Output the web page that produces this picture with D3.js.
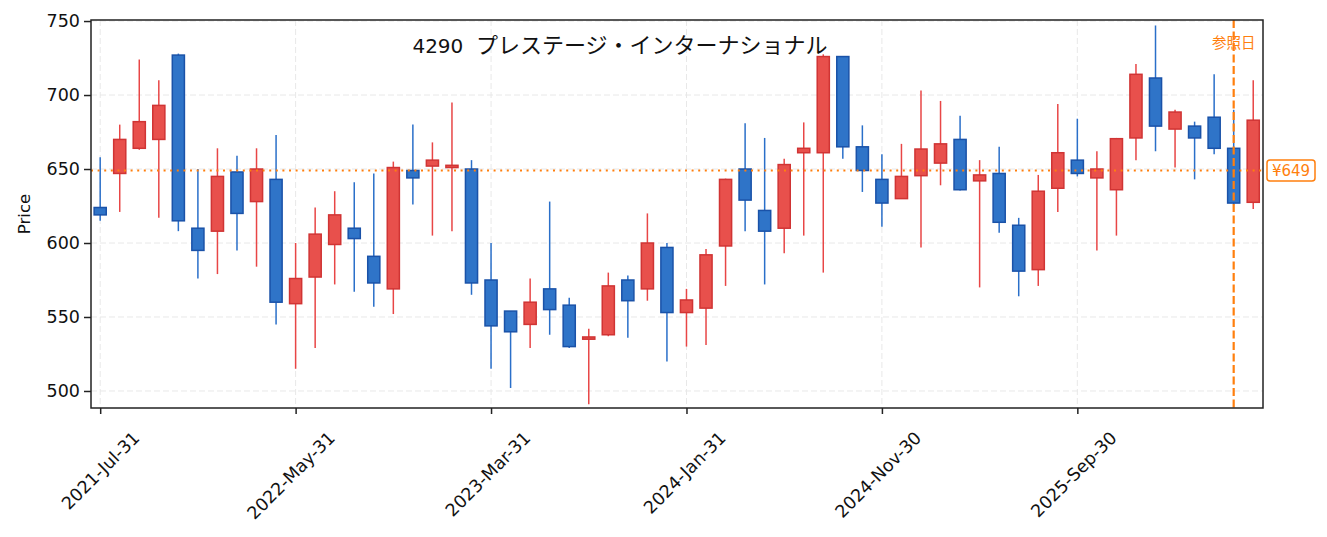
<!DOCTYPE html>
<html>
<head>
<meta charset="utf-8">
<script src="https://cdn.jsdelivr.net/npm/d3@7"></script>
<style>
  body { margin: 0; background: #fff; }
  svg text { font-family: "DejaVu Sans", "Noto Sans CJK JP", sans-serif; }
</style>
</head>
<body>
<script>
// DATA ––––––––––––––––––––––––––––––––––––––––––––––––––––––––––––––––

var dates = [
  "2021-07-31","2021-08-31","2021-09-30","2021-10-31","2021-11-30","2021-12-31",
  "2022-01-31","2022-02-28","2022-03-31","2022-04-30","2022-05-31","2022-06-30",
  "2022-07-31","2022-08-31","2022-09-30","2022-10-31","2022-11-30","2022-12-31",
  "2023-01-31","2023-02-28","2023-03-31","2023-04-30","2023-05-31","2023-06-30",
  "2023-07-31","2023-08-31","2023-09-30","2023-10-31","2023-11-30","2023-12-31",
  "2024-01-31","2024-02-29","2024-03-31","2024-04-30","2024-05-31","2024-06-30",
  "2024-07-31","2024-08-31","2024-09-30","2024-10-31","2024-11-30","2024-12-31",
  "2025-01-31","2025-02-28","2025-03-31","2025-04-30","2025-05-31","2025-06-30",
  "2025-07-31","2025-08-31","2025-09-30","2025-10-31","2025-11-30","2025-12-31",
  "2026-01-31","2026-02-28","2026-03-31","2026-04-30","2026-05-31","2026-06-30"
];

var open  = [624,647,664,670,727,610,608,648,628,643, 559,577,599,610,591,569,649,652,651,650,
             575,554,545,569,558,535,538,575,569,597, 553,556,598,650,622,610,661,661,726,665,
             643,630,645.5,654,670,642,647,612,582,637, 656,644,636,671,711.5,677,679,685,664,627.5];
var high  = [658,680,724,710,728,650,664,659,664,673, 600,624,635,641,647,655,680,668,695,656,
             600,554,576,628,563,542,580,578,620,600, 569,596,643.5,681,671,657,681.5,727.5,726,679.5,
             660,667,703,696,686,656,665,617,646,694, 684,662,671,721,747,690,682,714,690,710];
var low   = [615,621,663,617,608,576,579,595,584,545, 515,529,572,567,557,552,626,605,608,565,
             515,502,529,538,529,491,537,536,561,520, 530,531,571,608,572,593,605,580,657,634.5,
             611,630,597,639,635.5,570,607,564,571,621, 645,595,605,656,662,651,643,660,626,623];
var close = [619,670,682,693,615,595,645,620,650,560, 576,606,619,603,573,651,644,656,652.5,573,
             544,540,560,555,530,536.5,571,561,600,553, 561.5,592,643,629,608,653,664,726,665,649,
             627,645,663.5,667,636,646,614,581,635,661, 647,650,670.5,714,679,688.5,671,664,627,683];

var tickIndex  = [0, 10, 20, 30, 40, 50];
var tickLabels = ["2021-Jul-31","2022-May-31","2023-Mar-31","2024-Jan-31","2024-Nov-30","2025-Sep-30"];
var yTicks     = [500, 550, 600, 650, 700, 750];

var titleCode = "4290";
var titleName = "プレステージ・インターナショナル";
var refPrice  = 649;
var refIndex  = 58;
var refLabel  = "参照日";

// DRAW ––––––––––––––––––––––––––––––––––––––––––––––––––––––––––––––––

var drawChart = function() {
  let W = 1327, H = 537,
      margin = {top: 20, right: 64, bottom: 129, left: 91},
      width = W - margin.left - margin.right,
      height = H - margin.top - margin.bottom;

  let up = {fill: "#e8504c", stroke: "#d03434", wick: "#e84646"},
      down = {fill: "#2f74c8", stroke: "#1a52a8", wick: "#2a6fc9"},
      orange = "#ff7f0e";

  let svg = d3.select("body").append("svg")
      .attr("width", W)
      .attr("height", H);

  let g = svg.append("g")
      .attr("transform", "translate(" + margin.left + "," + margin.top + ")");

  let x = d3.scaleLinear().domain([-0.47, 59.5]).range([0, width]);
  let y = d3.scaleLinear().domain([488.5, 750.7]).range([height, 0]);

  // grid
  g.append("g").selectAll("line").data(yTicks).join("line")
    .attr("x1", 0).attr("x2", width)
    .attr("y1", d => y(d)).attr("y2", d => y(d))
    .attr("stroke", "#e8e8e8").attr("stroke-width", 1).attr("stroke-dasharray", "6,3");
  g.append("g").selectAll("line").data(tickIndex).join("line")
    .attr("x1", d => x(d)).attr("x2", d => x(d))
    .attr("y1", 0).attr("y2", height)
    .attr("stroke", "#e8e8e8").attr("stroke-width", 1).attr("stroke-dasharray", "6,3");

  // candles
  let candles = dates.map(function(d, i) {
    return {i: i, o: open[i], h: high[i], l: low[i], c: close[i]};
  });
  let bw = x(0.62) - x(0);

  let cg = g.append("g").selectAll("g").data(candles).join("g");
  cg.append("line")
    .attr("x1", d => x(d.i)).attr("x2", d => x(d.i))
    .attr("y1", d => y(d.h)).attr("y2", d => y(d.l))
    .attr("stroke", d => d.c >= d.o ? up.wick : down.wick)
    .attr("stroke-width", 1.5);
  cg.append("rect")
    .attr("x", d => x(d.i) - bw / 2)
    .attr("width", bw)
    .attr("y", d => y(Math.max(d.o, d.c)))
    .attr("height", d => Math.max(1, Math.abs(y(d.o) - y(d.c))))
    .attr("fill", d => d.c >= d.o ? up.fill : down.fill)
    .attr("stroke", d => d.c >= d.o ? up.stroke : down.stroke)
    .attr("stroke-width", 1.5);

  // reference price & date
  g.append("line")
    .attr("x1", 0).attr("x2", width)
    .attr("y1", y(refPrice)).attr("y2", y(refPrice))
    .attr("stroke", orange).attr("stroke-width", 2)
    .attr("stroke-dasharray", "2,4.6");
  g.append("line")
    .attr("x1", x(refIndex)).attr("x2", x(refIndex))
    .attr("y1", 0).attr("y2", height)
    .attr("stroke", orange).attr("stroke-width", 2.2)
    .attr("stroke-dasharray", "8,3.5");

  g.append("text")
    .attr("x", x(refIndex)).attr("y", 27.5)
    .attr("text-anchor", "middle")
    .attr("fill", orange).attr("font-size", 14.5)
    .text(refLabel);

  let lab = g.append("g").attr("transform", "translate(" + (width + 4) + "," + y(refPrice) + ")");
  lab.append("rect")
    .attr("x", 0).attr("y", -10.5).attr("width", 48).attr("height", 21)
    .attr("rx", 3)
    .attr("fill", "#fff").attr("stroke", orange).attr("stroke-width", 1.5);
  lab.append("text")
    .attr("x", 24).attr("y", 5.5)
    .attr("text-anchor", "middle")
    .attr("fill", orange).attr("font-size", 15)
    .text("¥" + refPrice);

  // axes
  let yAxis = g.append("g")
      .call(d3.axisLeft(y).tickValues(yTicks).tickSize(7).tickPadding(4));
  yAxis.select(".domain").remove();
  yAxis.selectAll(".tick line").attr("stroke", "#222").attr("stroke-width", 1.5);
  yAxis.selectAll(".tick text").attr("font-size", 17.5).attr("fill", "#111");

  let xAxis = g.append("g")
      .attr("transform", "translate(0," + height + ")")
      .call(d3.axisBottom(x).tickValues(tickIndex)
        .tickFormat((d, i) => tickLabels[i]).tickSize(6));
  xAxis.select(".domain").remove();
  xAxis.selectAll(".tick line").attr("stroke", "#222").attr("stroke-width", 1.5);
  xAxis.selectAll(".tick text")
    .attr("font-size", 17.5).attr("fill", "#111")
    .attr("text-anchor", "end")
    .attr("dy", 0)
    .attr("y", 0)
    .attr("transform", "translate(40,31) rotate(-45)");

  // frame
  g.append("rect")
    .attr("width", width).attr("height", height)
    .attr("fill", "none").attr("stroke", "#222").attr("stroke-width", 1.5);

  g.append("text")
    .attr("transform", "translate(" + (24 - margin.left) + "," + (height / 2) + ") rotate(-90)")
    .attr("text-anchor", "middle")
    .attr("dy", "0.35em")
    .attr("font-size", 16.5).attr("fill", "#111")
    .text("Price");

  let t = g.append("text")
    .attr("x", 620 - margin.left).attr("y", 33)
    .attr("text-anchor", "middle")
    .attr("fill", "#111")
    .style("white-space", "pre");
  t.append("tspan").attr("font-size", 20).text(titleCode + "  ");
  t.append("tspan").attr("font-size", 22).attr("font-family", "Noto Sans CJK JP").text(titleName);
};

drawChart();
</script>
</body>
</html>
